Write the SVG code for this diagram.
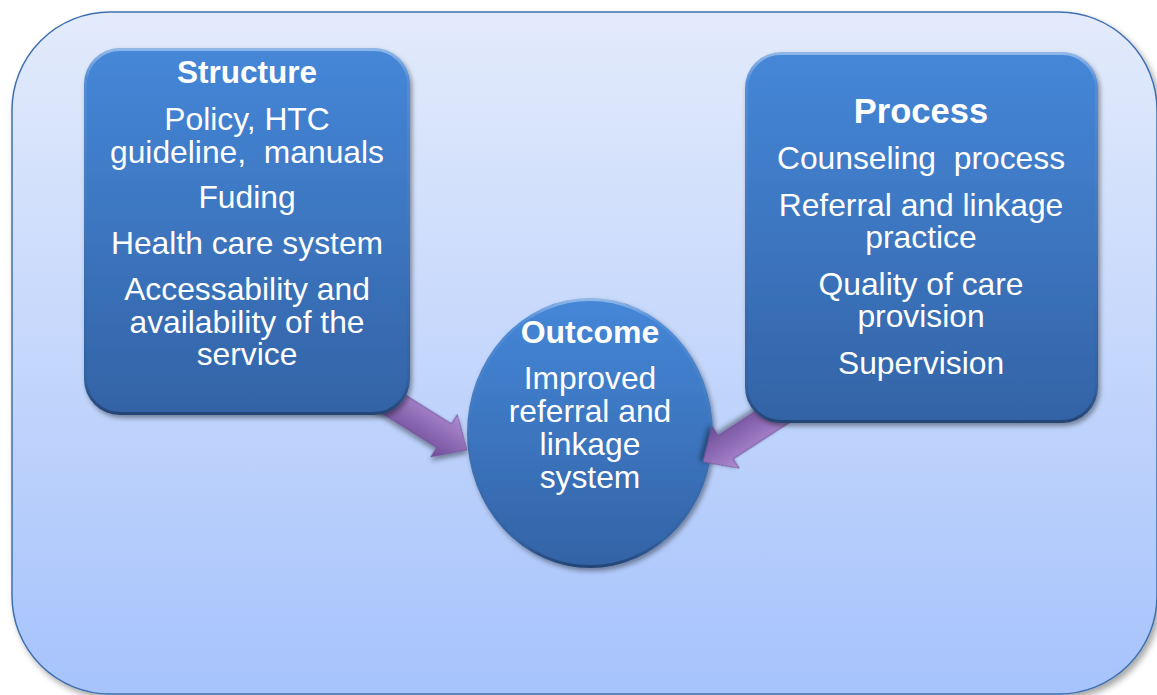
<svg xmlns="http://www.w3.org/2000/svg" width="1157" height="695" viewBox="0 0 1157 695">
  <defs>
    <linearGradient id="bgGrad" x1="0" y1="0" x2="0" y2="1">
      <stop offset="0" stop-color="#e3ebfb"/>
      <stop offset="1" stop-color="#a6c3fc"/>
    </linearGradient>
    <linearGradient id="nodeGrad" x1="0" y1="0" x2="0" y2="1">
      <stop offset="0" stop-color="#4587d8"/>
      <stop offset="1" stop-color="#3363a6"/>
    </linearGradient>
    <linearGradient id="bevelGrad" x1="0" y1="0" x2="0" y2="1">
      <stop offset="0" stop-color="#ffffff" stop-opacity="0.4"/>
      <stop offset="0.08" stop-color="#ffffff" stop-opacity="0.08"/>
      <stop offset="0.9" stop-color="#000000" stop-opacity="0.05"/>
      <stop offset="1" stop-color="#000000" stop-opacity="0.3"/>
    </linearGradient>
    <linearGradient id="arrowGrad" x1="0" y1="-1" x2="0" y2="1" gradientUnits="objectBoundingBox">
      <stop offset="0" stop-color="#7a58a6"/>
      <stop offset="0.45" stop-color="#b795d8"/>
      <stop offset="0.6" stop-color="#a27fc6"/>
      <stop offset="1" stop-color="#6f4c98"/>
    </linearGradient>
    <filter id="shadow" x="-10%" y="-10%" width="125%" height="125%">
      <feDropShadow dx="3" dy="4" stdDeviation="3" flood-color="#000" flood-opacity="0.35"/>
    </filter>
    <filter id="softShadow" x="-10%" y="-10%" width="125%" height="125%">
      <feDropShadow dx="2" dy="3" stdDeviation="2.5" flood-color="#000" flood-opacity="0.4"/>
    </filter>
  </defs>
  <style>
    .node { fill: url(#nodeGrad); filter: url(#softShadow); }
    .bevel { fill: none; stroke: url(#bevelGrad); stroke-width: 3; }
    .title { font-family: "Liberation Sans", Arial, sans-serif; font-weight: bold; fill: #ffffff; text-anchor: middle; }
    .body { font-family: "Liberation Sans", Arial, sans-serif; font-size: 31.8px; fill: #ffffff; text-anchor: middle; }
    .arrow { fill: url(#arrowGrad); stroke: #6a4a92; stroke-width: 0.8; filter: url(#softShadow); }
  </style>

  <!-- background panel -->
  <g id="panel">
    <rect x="12" y="12" width="1145" height="682" rx="98" ry="98" fill="url(#bgGrad)" stroke="#3f70b0" stroke-width="1.5" filter="url(#shadow)"/>
  </g>

  <!-- outcome circle -->
  <g id="outcome">
    <ellipse cx="590" cy="433" rx="123" ry="135" class="node"/>
    <ellipse cx="590" cy="433" rx="121.5" ry="133.5" class="bevel"/>
    <text x="590" y="343" class="title" font-size="32">Outcome</text>
    <text x="590" y="389" class="body">Improved</text>
    <text x="590" y="422" class="body">referral and</text>
    <text x="590" y="455" class="body">linkage</text>
    <text x="590" y="488" class="body">system</text>
  </g>

  <!-- connectors: block arrows -->
  <g id="connectors">
    <path class="arrow" transform="translate(467 450) rotate(32)" d="M0,0 L-27,-25 L-27,-14 L-110,-14 L-110,14 L-27,14 L-27,25 Z"/>
    <path class="arrow" transform="translate(703 462) rotate(147)" d="M0,0 L-27,-25 L-27,-14 L-110,-14 L-110,14 L-27,14 L-27,25 Z"/>
  </g>

  <!-- structure box -->
  <g id="structure">
    <rect x="84" y="48" width="326" height="367" rx="36" ry="36" class="node"/>
    <rect x="85.5" y="49.5" width="323" height="364" rx="34.5" ry="34.5" class="bevel"/>
    <text x="247" y="83" class="title" font-size="31.5">Structure</text>
    <text x="247" y="130" class="body">Policy, HTC</text>
    <text x="247" y="163" class="body" xml:space="preserve">guideline,  manuals</text>
    <text x="247" y="208" class="body">Fuding</text>
    <text x="247" y="254" class="body">Health care system</text>
    <text x="247" y="300" class="body">Accessability and</text>
    <text x="247" y="333" class="body">availability of the</text>
    <text x="247" y="365" class="body">service</text>
  </g>

  <!-- process box -->
  <g id="process">
    <rect x="745" y="52" width="353" height="371" rx="36" ry="36" class="node"/>
    <rect x="746.5" y="53.5" width="350" height="368" rx="34.5" ry="34.5" class="bevel"/>
    <text x="921" y="123" class="title" font-size="34.5">Process</text>
    <text x="921" y="169" class="body" xml:space="preserve">Counseling  process</text>
    <text x="921" y="216" class="body">Referral and linkage</text>
    <text x="921" y="248" class="body">practice</text>
    <text x="921" y="295" class="body">Quality of care</text>
    <text x="921" y="327" class="body">provision</text>
    <text x="921" y="374" class="body">Supervision</text>
  </g>
</svg>
